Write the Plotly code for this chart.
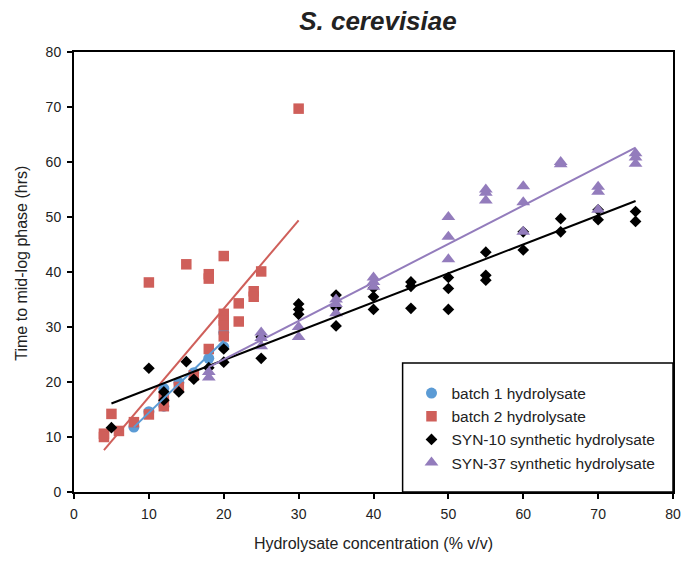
import plotly.graph_objects as go

# ---- data ----
b1_x = [8, 10, 12, 12, 14, 16, 18, 20, 20]
b1_y = [11.8, 14.6, 15.6, 18.8, 19.9, 21.7, 24.3, 26.4, 29.0]
b1_fit_x = [8, 20]
b1_fit_y = [11.8, 27.5]

b2_x = [4, 4, 5, 6, 8, 10, 10, 12, 12, 14, 15, 16, 18, 18, 18, 20, 20, 20, 20, 20, 22, 22, 24, 24, 25, 30]
b2_y = [10.6, 10.0, 14.2, 11.1, 12.7, 38.1, 14.1, 15.6, 17.2, 19.1, 41.4, 21.2, 39.6, 38.8, 26.0,
        42.9, 32.4, 31.2, 30.3, 28.3, 34.3, 31.0, 36.5, 35.5, 40.1, 69.7]
b2_fit_x = [4, 30]
b2_fit_y = [7.6, 49.4]

s10_x = [5, 10, 12, 12, 14, 15, 16, 18, 20, 20, 25, 25, 30, 30, 30, 35, 35, 35,
         40, 40, 40, 45, 45, 45, 50, 50, 50, 55, 55, 55, 60, 60, 65, 65, 70, 70, 75, 75]
s10_y = [11.7, 22.5, 18.2, 16.7, 18.2, 23.7, 20.5, 22.6, 26.0, 23.6, 28.2, 24.3, 34.2, 33.2, 32.3,
         35.8, 33.5, 30.2, 37.1, 35.5, 33.2, 38.2, 37.4, 33.4, 39.0, 37.0, 33.2,
         43.6, 39.4, 38.5, 47.3, 44.0, 49.7, 47.3, 51.3, 49.5, 51.0, 49.2]
s10_fit_x = [5, 75]
s10_fit_y = [16.1, 52.9]

s37_x = [18, 18, 25, 25, 25, 30, 30, 35, 35, 35, 40, 40, 40, 50, 50, 50, 55, 55, 55,
         60, 60, 60, 65, 65, 70, 70, 70, 75, 75, 75]
s37_y = [21.8, 20.8, 29.0, 28.0, 26.5, 30.0, 28.2, 35.0, 34.2, 32.5, 39.0, 38.2, 37.3,
         50.0, 46.4, 42.3, 55.0, 54.4, 53.0, 55.6, 52.7, 47.3, 60.0, 59.6, 55.5, 54.6, 51.3,
         61.6, 60.8, 59.7]
s37_fit_x = [18, 75]
s37_fit_y = [22.7, 62.6]

names = ["batch 1 hydrolysate", "batch 2 hydrolysate",
         "SYN-10 synthetic hydrolysate", "SYN-37 synthetic hydrolysate"]
x_ticks = [0, 10, 20, 30, 40, 50, 60, 70, 80]
y_ticks = [0, 10, 20, 30, 40, 50, 60, 70, 80]

c_blue = "#5B9BD5"
c_red = "#CF5F5A"
c_black = "#000000"
c_purple = "#937CBC"

FONT = "Liberation Sans, Arial, sans-serif"

fig = go.Figure()

series = [
    (b1_x, b1_y, b1_fit_x, b1_fit_y, names[0], c_blue, "circle", 11),
    (b2_x, b2_y, b2_fit_x, b2_fit_y, names[1], c_red, "square", 10.5),
    (s10_x, s10_y, s10_fit_x, s10_fit_y, names[2], c_black, "diamond", 9),
    (s37_x, s37_y, s37_fit_x, s37_fit_y, names[3], c_purple, "triangle-up", 12),
]

for xs, ys, fx, fy, nm, col, sym, sz in series:
    fig.add_trace(go.Scatter(
        x=xs, y=ys, mode="markers", name=nm,
        marker=dict(color=col, symbol=sym, size=sz, line=dict(width=0)),
    ))

for xs, ys, fx, fy, nm, col, sym, sz in series:
    fig.add_trace(go.Scatter(
        x=fx, y=fy, mode="lines", showlegend=False, hoverinfo="skip",
        line=dict(color=col, width=2),
    ))

fig.update_layout(
    width=693, height=563,
    margin=dict(l=74, r=12, t=52, b=71),
    paper_bgcolor="white", plot_bgcolor="white",
    font=dict(family=FONT, size=14, color="#000000"),
    title=dict(text="<b><i>S. cerevisiae</i></b>", x=(382 - 74) / 607, xref="paper",
               xanchor="center",
               y=1 - 21 / 563, yref="container", yanchor="middle",
               font=dict(family=FONT, size=26, color="#222222")),
    xaxis=dict(range=[0, 80], tickvals=x_ticks, ticks="outside", ticklen=5, tickwidth=2,
               tickcolor="black", showline=True, linecolor="black", linewidth=2, mirror=True,
               showgrid=False, zeroline=False, tickfont=dict(size=14, color="#222222"),
               ticklabelstandoff=3,
               title=dict(text="Hydrolysate concentration (% v/v)", standoff=17,
                          font=dict(size=16, color="#222222"))),
    yaxis=dict(range=[0, 80], tickvals=y_ticks, ticks="outside", ticklen=5, tickwidth=2,
               tickcolor="black", showline=True, linecolor="black", linewidth=2, mirror=True,
               showgrid=False, zeroline=False, tickfont=dict(size=14, color="#222222"),
               ticklabelstandoff=3),
    annotations=[dict(text="Time to mid-log phase (hrs)", textangle=-90,
                      xref="paper", yref="paper", x=(20 - 74) / 607, y=(492 - 263) / 440,
                      xanchor="center", yanchor="middle", showarrow=False,
                      font=dict(size=16, color="#222222"))],
    legend=dict(x=(416 - 74) / 607, y=(492 - 376.5) / 440, xanchor="left", yanchor="top",
                bgcolor="rgba(0,0,0,0)", borderwidth=0,
                font=dict(size=15.5, color="#222222"), tracegroupgap=0),
    shapes=[dict(type="rect", xref="paper", yref="paper",
                 x0=(407 - 74) / 607, x1=1.0, y0=0.0, y1=(492 - 363) / 440,
                 line=dict(color="black", width=1.5), fillcolor="white", layer="below")],
)

fig.write_html("out.html")
